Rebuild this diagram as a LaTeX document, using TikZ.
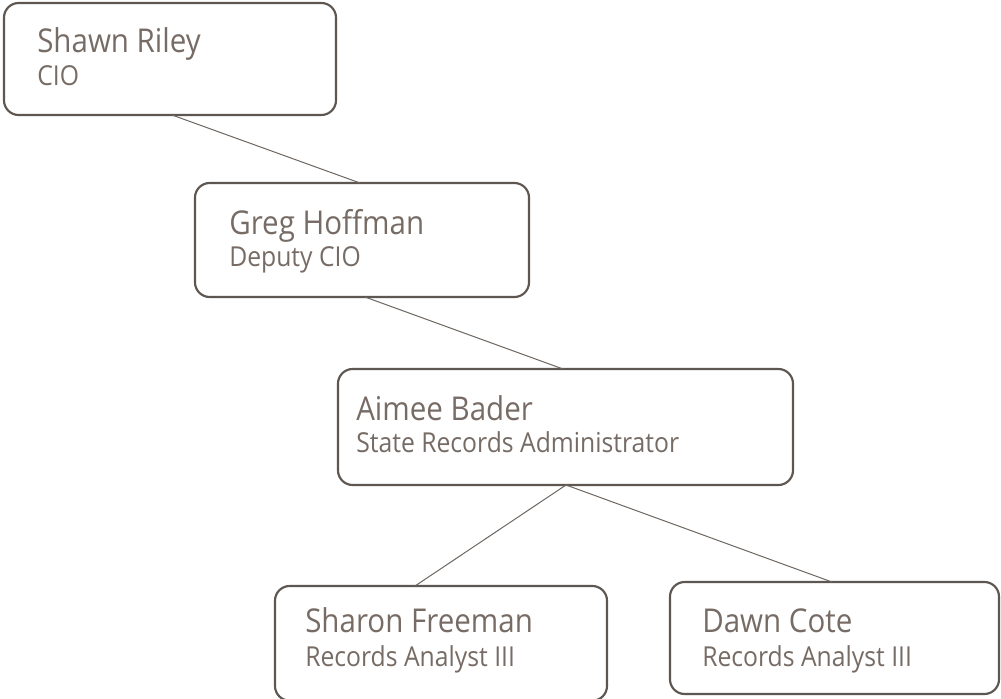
\documentclass[tikz,border=0pt]{standalone}
\usepackage{fontspec}
\setmainfont{Open Sans}[FakeStretch=0.9]
\usetikzlibrary{calc}
\definecolor{boxline}{HTML}{5E5650}
\definecolor{txt}{HTML}{776C65}
\definecolor{conn}{HTML}{6E6660}
\begin{document}
\begin{tikzpicture}[x=0.75pt,y=-0.75pt,
  box/.style={draw=boxline,line width=1.6pt,rounded corners=11pt,fill=white,
    inner sep=0pt,outer sep=0pt,anchor=north west},
  namelabel/.style={anchor=base west,inner sep=0pt,text=txt,font=\fontsize{24.6}{28}\selectfont},
  titlelabel/.style={anchor=base west,inner sep=0pt,text=txt,font=\fontsize{20.6}{24}\selectfont},
  link/.style={draw=conn,line width=0.75pt}]
\useasboundingbox (0,0) rectangle (1001,699);
\fill[white] (0,0) rectangle (1001,699);
% connector end points
\coordinate (c1a) at (172,115);
\coordinate (c1b) at (360,183);
\coordinate (c2a) at (365,297);
\coordinate (c2b) at (563,369);
\coordinate (c3a) at (566,485);
\coordinate (c3b) at (415,586);
\coordinate (c4b) at (832,582);
% boxes
\node[box,minimum width=249pt,minimum height=84pt] (shawn) at (4,3) {};
\node[box,minimum width=250.5pt,minimum height=85.5pt] (greg) at (195,183) {};
\node[box,minimum width=341.25pt,minimum height=87pt] (aimee) at (338,369) {};
\node[box,minimum width=249pt,minimum height=86pt] (sharon) at (275,586) {};
\node[box,minimum width=246.75pt,minimum height=84pt] (dawn) at (670,582) {};
\draw[link] (c1a) -- (c1b);
\draw[link] (c2a) -- (c2b);
\draw[link] (c3a) -- (c3b);
\draw[link] (c3a) -- (c4b);
% texts
\node[namelabel] (shawnN) at (37,53) {Shawn Riley};
\node[titlelabel] (shawnT) at (37,86) {CIO};
\node[namelabel] (gregN) at (229,234) {Greg Hoffman};
\node[titlelabel] (gregT) at (229,267) {Deputy CIO};
\node[namelabel] (aimeeN) at (356,420) {Aimee Bader};
\node[titlelabel] (aimeeT) at (356,452) {State Records Administrator};
\node[namelabel] (sharonN) at (305,632) {Sharon Freeman};
\node[titlelabel] (sharonT) at (305,666) {Records Analyst III};
\node[namelabel] (dawnN) at (702,632) {Dawn Cote};
\node[titlelabel] (dawnT) at (702,666) {Records Analyst III};
\end{tikzpicture}
\end{document}
